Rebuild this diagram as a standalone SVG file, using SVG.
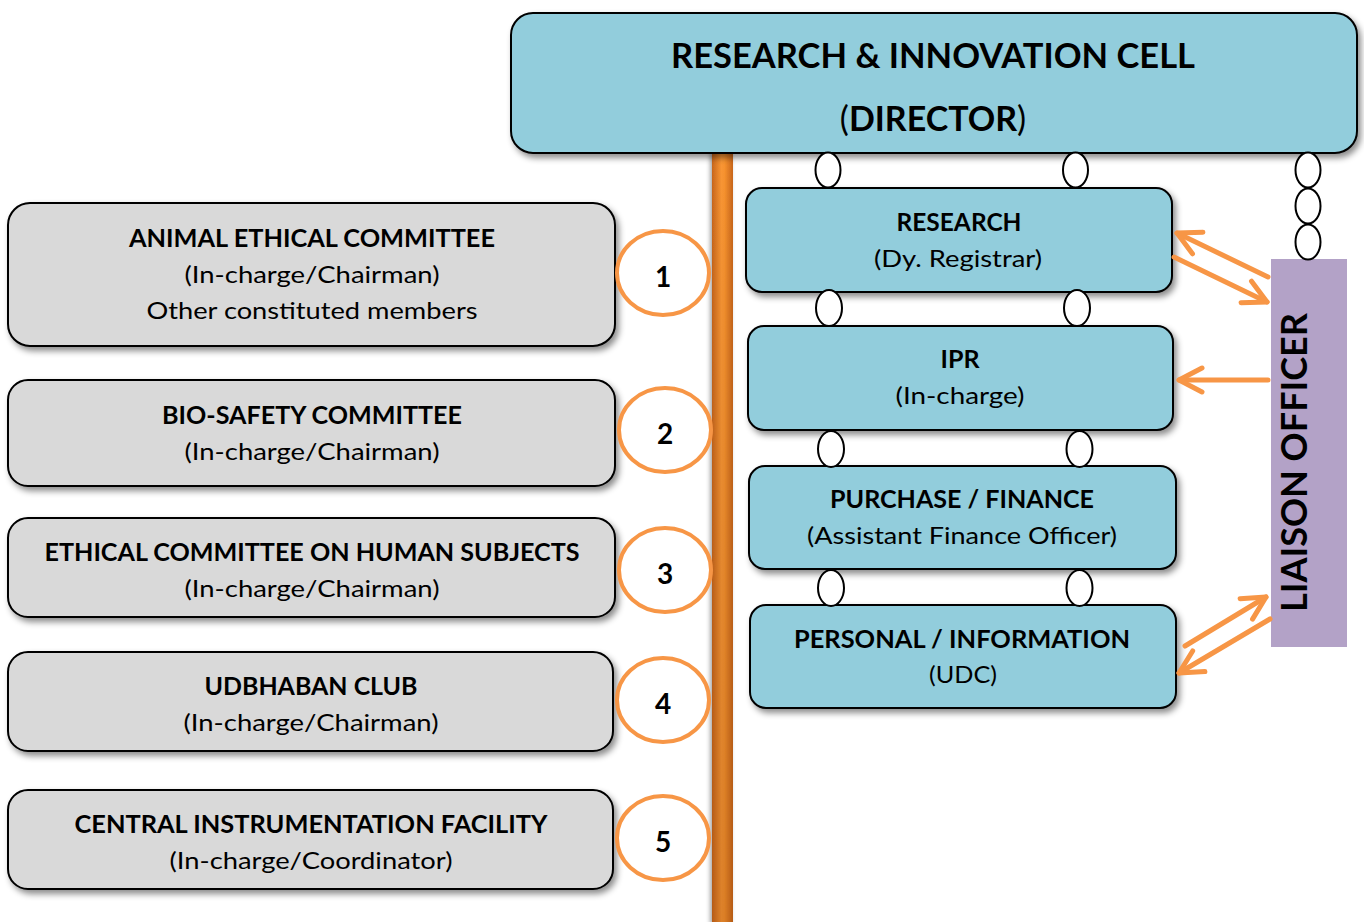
<svg xmlns="http://www.w3.org/2000/svg" width="1364" height="922" viewBox="0 0 1364 922">
<style>
text{font-family:Lato,"Noto Sans","Liberation Sans",sans-serif;fill:#000;text-anchor:middle}
.b{font-weight:bold}
.t{font-size:24px}
.h{font-size:34px;font-weight:bold}
.n{font-size:28px;font-weight:bold}
.blue{fill:#92CDDC;stroke:#000;stroke-width:2;filter:url(#sh)}
.grey{fill:#D9D9D9;stroke:#000;stroke-width:2;filter:url(#sh)}
.num{fill:#fff;stroke:#F79646;stroke-width:4}
.link{fill:#fff;stroke:#000;stroke-width:2}
.arr{stroke:#F79646;stroke-width:5;fill:none;stroke-linecap:round;marker-end:url(#ah)}
</style>
<defs>
<filter id="sh" x="-10%" y="-10%" width="125%" height="130%">
<feDropShadow dx="3" dy="4" stdDeviation="3" flood-color="#000" flood-opacity="0.45"/>
</filter>
<filter id="bsh" x="-50%" y="-5%" width="200%" height="110%">
<feDropShadow dx="-2" dy="2" stdDeviation="2" flood-color="#000" flood-opacity="0.35"/>
</filter>
<linearGradient id="barH" x1="0" y1="0" x2="1" y2="0">
<stop offset="0" stop-color="#C8661C"/>
<stop offset="0.45" stop-color="#F99634"/>
<stop offset="0.6" stop-color="#F7922E"/>
<stop offset="1" stop-color="#C8661C"/>
</linearGradient>
<linearGradient id="barV" x1="0" y1="0" x2="0" y2="1">
<stop offset="0" stop-color="#000" stop-opacity="0"/>
<stop offset="1" stop-color="#6B2E00" stop-opacity="0.2"/>
</linearGradient>
<marker id="ah" markerUnits="userSpaceOnUse" markerWidth="32" markerHeight="32" viewBox="0 0 32 32" refX="28" refY="16" orient="auto">
<path d="M5,4 L28,16 L5,28" fill="none" stroke="#F79646" stroke-width="5" stroke-linecap="round" stroke-linejoin="round"/>
</marker>
</defs>
<rect width="1364" height="922" fill="#fff"/>

<g id="spine">
<rect x="712" y="150" width="21" height="772" fill="url(#barH)" filter="url(#bsh)"/>
<rect x="712" y="150" width="21" height="772" fill="url(#barV)"/>
</g>

<g id="node-director">
<rect class="blue" x="511" y="13" width="846" height="140" rx="22"/>
<text class="h" x="933" y="68" textLength="524" lengthAdjust="spacingAndGlyphs">RESEARCH &amp; INNOVATION CELL</text>
<text class="h" x="933" y="131"><tspan font-weight="normal">(</tspan>DIRECTOR<tspan font-weight="normal">)</tspan></text>
</g>

<g id="node-research">
<rect class="blue" x="746" y="188" width="426" height="104" rx="16"/>
<text class="t b" x="959" y="231" textLength="125" lengthAdjust="spacingAndGlyphs">RESEARCH</text>
<text class="t" x="958" y="267" textLength="168" lengthAdjust="spacingAndGlyphs">(Dy. Registrar)</text>
</g>

<g id="node-ipr">
<rect class="blue" x="748" y="326" width="425" height="104" rx="16"/>
<text class="t b" x="960" y="368" textLength="39" lengthAdjust="spacingAndGlyphs">IPR</text>
<text class="t" x="960" y="404" textLength="129" lengthAdjust="spacingAndGlyphs">(In-charge)</text>
</g>

<g id="node-purchase">
<rect class="blue" x="749" y="466" width="427" height="103" rx="16"/>
<text class="t b" x="962" y="508" textLength="264" lengthAdjust="spacingAndGlyphs">PURCHASE / FINANCE</text>
<text class="t" x="962" y="544" textLength="310" lengthAdjust="spacingAndGlyphs">(Assistant Finance Officer)</text>
</g>

<g id="node-personal">
<rect class="blue" x="750" y="605" width="426" height="103" rx="16"/>
<text class="t b" x="962" y="648" textLength="336" lengthAdjust="spacingAndGlyphs">PERSONAL / INFORMATION</text>
<text class="t" x="963" y="683" textLength="68" lengthAdjust="spacingAndGlyphs">(UDC)</text>
</g>

<g id="node-liaison">
<rect x="1271" y="259" width="76" height="388" fill="#B3A2C7"/>
<text class="b" font-size="37" transform="translate(1307,462.5) rotate(-90)" x="0" y="0" textLength="299" lengthAdjust="spacingAndGlyphs">LIAISON OFFICER</text>
</g>

<g id="node-animal">
<rect class="grey" x="8" y="203" width="607" height="143" rx="22"/>
<text class="t b" x="312" y="247" textLength="366" lengthAdjust="spacingAndGlyphs">ANIMAL ETHICAL COMMITTEE</text>
<text class="t" x="312" y="283" textLength="255" lengthAdjust="spacingAndGlyphs">(In-charge/Chairman)</text>
<text class="t" x="312" y="319" textLength="331" lengthAdjust="spacingAndGlyphs">Other constituted members</text>
</g>
<g id="num-1">
<ellipse class="num" cx="663" cy="273" rx="46" ry="42"/>
<text class="n" x="663" y="287">1</text>
</g>

<g id="node-biosafety">
<rect class="grey" x="8" y="380" width="607" height="106" rx="20"/>
<text class="t b" x="312" y="424" textLength="300" lengthAdjust="spacingAndGlyphs">BIO-SAFETY COMMITTEE</text>
<text class="t" x="312" y="460" textLength="255" lengthAdjust="spacingAndGlyphs">(In-charge/Chairman)</text>
</g>
<g id="num-2">
<ellipse class="num" cx="665" cy="430" rx="46" ry="42"/>
<text class="n" x="665" y="444">2</text>
</g>

<g id="node-human">
<rect class="grey" x="8" y="518" width="607" height="99" rx="20"/>
<text class="t b" x="312" y="561" textLength="535" lengthAdjust="spacingAndGlyphs">ETHICAL COMMITTEE ON HUMAN SUBJECTS</text>
<text class="t" x="312" y="597" textLength="255" lengthAdjust="spacingAndGlyphs">(In-charge/Chairman)</text>
</g>
<g id="num-3">
<ellipse class="num" cx="665" cy="570" rx="46" ry="42"/>
<text class="n" x="665" y="584">3</text>
</g>

<g id="node-udbhaban">
<rect class="grey" x="8" y="652" width="605" height="99" rx="20"/>
<text class="t b" x="311" y="695" textLength="213" lengthAdjust="spacingAndGlyphs">UDBHABAN CLUB</text>
<text class="t" x="311" y="731" textLength="255" lengthAdjust="spacingAndGlyphs">(In-charge/Chairman)</text>
</g>
<g id="num-4">
<ellipse class="num" cx="663" cy="700" rx="46" ry="42"/>
<text class="n" x="663" y="714">4</text>
</g>

<g id="node-cif">
<rect class="grey" x="8" y="790" width="605" height="99" rx="20"/>
<text class="t b" x="311" y="833" textLength="473" lengthAdjust="spacingAndGlyphs">CENTRAL INSTRUMENTATION FACILITY</text>
<text class="t" x="311" y="869" textLength="283" lengthAdjust="spacingAndGlyphs">(In-charge/Coordinator)</text>
</g>
<g id="num-5">
<ellipse class="num" cx="663" cy="838" rx="46" ry="42"/>
<text class="n" x="663" y="852">5</text>
</g>

<g id="connectors">
<ellipse class="link" cx="828" cy="170" rx="12.5" ry="17.5"/>
<ellipse class="link" cx="1075.5" cy="170" rx="12.5" ry="17.5"/>
<ellipse class="link" cx="1308" cy="170" rx="12.5" ry="17.5"/>
<ellipse class="link" cx="1308" cy="206" rx="12.5" ry="17.5"/>
<ellipse class="link" cx="1308" cy="242" rx="12.5" ry="17.5"/>
<ellipse class="link" cx="829" cy="308" rx="13" ry="18"/>
<ellipse class="link" cx="1077" cy="308" rx="13" ry="18"/>
<ellipse class="link" cx="831" cy="449" rx="13" ry="18"/>
<ellipse class="link" cx="1079.5" cy="449" rx="13" ry="18"/>
<ellipse class="link" cx="831" cy="588" rx="13" ry="18"/>
<ellipse class="link" cx="1079.5" cy="588" rx="13" ry="18"/>
<line class="arr" x1="1268" y1="277" x2="1177" y2="233"/>
<line class="arr" x1="1174" y1="257" x2="1267" y2="302"/>
<line class="arr" x1="1268" y1="380" x2="1179" y2="380"/>
<line class="arr" x1="1185" y1="646" x2="1266" y2="597"/>
<line class="arr" x1="1270" y1="619" x2="1179" y2="673"/>
</g>
</svg>
